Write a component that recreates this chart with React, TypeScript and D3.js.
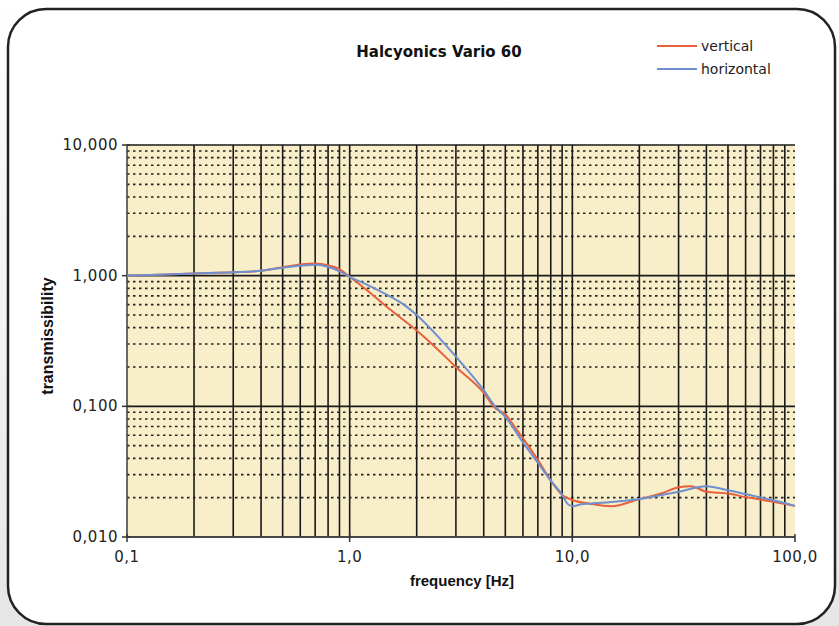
import React, { useEffect, useRef } from 'react'
import * as d3 from 'd3'

const xTickValues = [0.1, 1, 10, 100]
const xTickLabels = ['0,1', '1,0', '10,0', '100,0']
const yTickValues = [0.01, 0.1, 1, 10]
const yTickLabels = ['0,010', '0,100', '1,000', '10,000']

const verticalFreq = [0.1, 0.15, 0.2, 0.3, 0.4, 0.5, 0.6, 0.7, 0.8, 0.9, 1.0, 1.2, 1.5, 2.0, 2.5, 3.0, 4.0, 4.5, 5.0, 5.5, 6.0, 7.0, 8.0, 9.0, 10, 12, 15, 20, 25, 30, 34, 40, 50, 60, 80, 100]
const verticalVal = [1.0, 1.02, 1.04, 1.06, 1.09, 1.16, 1.22, 1.24, 1.2, 1.12, 0.98, 0.77, 0.56, 0.38, 0.27, 0.2, 0.127, 0.097, 0.087, 0.07, 0.057, 0.039, 0.027, 0.021, 0.0192, 0.018, 0.0172, 0.0195, 0.0215, 0.024, 0.0245, 0.0222, 0.0215, 0.0202, 0.0186, 0.0173]

const horizontalFreq = [0.1, 0.2, 0.3, 0.4, 0.5, 0.6, 0.7, 0.8, 0.9, 1.0, 1.2, 1.5, 1.8, 2.0, 2.5, 3.0, 4.0, 4.5, 5.0, 6.0, 7.0, 8.0, 9.0, 9.5, 10, 11, 12, 15, 20, 30, 40, 50, 60, 80, 100]
const horizontalVal = [1.0, 1.04, 1.06, 1.09, 1.15, 1.19, 1.21, 1.17, 1.08, 0.98, 0.85, 0.7, 0.58, 0.5, 0.34, 0.24, 0.133, 0.1, 0.083, 0.053, 0.037, 0.027, 0.021, 0.018, 0.0172, 0.0178, 0.018, 0.0185, 0.0195, 0.0222, 0.0245, 0.0228, 0.0213, 0.0191, 0.0173]

const seriesNames = ['vertical', 'horizontal']
const seriesColors = ['#e8603c', '#6f8fcf']

export default function App() {
  const svgRef = useRef<SVGSVGElement>(null)

  useEffect(() => {
    const svg = d3.select(svgRef.current)
    svg.selectAll('*').remove()

    const W = 839
    const H = 626
    const left = 127
    const right = 795
    const top = 145
    const bottom = 537

    // page background + rounded frame
    const defs = svg.append('defs')
    const grad = defs
      .append('linearGradient')
      .attr('id', 'bg')
      .attr('x1', 0)
      .attr('y1', 0)
      .attr('x2', 0)
      .attr('y2', 1)
    grad.append('stop').attr('offset', '0%').attr('stop-color', '#ffffff')
    grad.append('stop').attr('offset', '100%').attr('stop-color', '#e6e6e6')
    svg.append('rect').attr('width', W).attr('height', H).attr('fill', 'url(#bg)')
    svg
      .append('rect')
      .attr('x', 8)
      .attr('y', 9)
      .attr('width', 827)
      .attr('height', 615)
      .attr('rx', 38)
      .attr('fill', '#ffffff')
      .attr('stroke', '#222')
      .attr('stroke-width', 2.5)

    const x = d3.scaleLog().domain([0.1, 100]).range([left, right])
    const y = d3.scaleLog().domain([0.01, 10]).range([bottom, top])

    svg
      .append('rect')
      .attr('x', left)
      .attr('y', top)
      .attr('width', right - left)
      .attr('height', bottom - top)
      .attr('fill', '#f8efca')

    // minor horizontal (dotted) and vertical grid
    const g = svg.append('g')
    for (let d = -2; d < 1; d++) {
      for (let m = 2; m <= 9; m++) {
        const v = m * Math.pow(10, d)
        g.append('line')
          .attr('x1', left)
          .attr('x2', right)
          .attr('y1', y(v))
          .attr('y2', y(v))
          .attr('stroke', '#222')
          .attr('stroke-width', 1.6)
          .attr('stroke-dasharray', '2.5,3.5')
      }
    }
    for (let d = -1; d < 2; d++) {
      for (let m = 1; m <= 9; m++) {
        const v = m * Math.pow(10, d)
        if (v === 0.1) continue
        g.append('line')
          .attr('x1', x(v))
          .attr('x2', x(v))
          .attr('y1', top)
          .attr('y2', bottom)
          .attr('stroke', '#1a1a1a')
          .attr('stroke-width', 1.6)
      }
    }
    yTickValues.forEach((v) => {
      g.append('line')
        .attr('x1', left)
        .attr('x2', right)
        .attr('y1', y(v))
        .attr('y2', y(v))
        .attr('stroke', '#1a1a1a')
        .attr('stroke-width', 1.6)
    })
    // axes lines
    g.append('line')
      .attr('x1', left)
      .attr('x2', left)
      .attr('y1', top)
      .attr('y2', bottom)
      .attr('stroke', '#444')
      .attr('stroke-width', 1.6)
    g.append('line')
      .attr('x1', left)
      .attr('x2', right)
      .attr('y1', bottom)
      .attr('y2', bottom)
      .attr('stroke', '#444')
      .attr('stroke-width', 1.6)

    // ticks + labels
    yTickValues.forEach((v, i) => {
      g.append('line')
        .attr('x1', left - 5)
        .attr('x2', left + 3)
        .attr('y1', y(v))
        .attr('y2', y(v))
        .attr('stroke', '#333')
        .attr('stroke-width', 1.5)
      svg
        .append('text')
        .attr('x', left - 9)
        .attr('y', y(v) + 5)
        .attr('text-anchor', 'end')
        .attr('font-family', 'DejaVu Sans, sans-serif')
        .attr('font-size', 15)
        .attr('letter-spacing', 0.5)
        .attr('fill', '#222')
        .text(yTickLabels[i])
    })
    xTickValues.forEach((v, i) => {
      g.append('line')
        .attr('x1', x(v))
        .attr('x2', x(v))
        .attr('y1', bottom - 3)
        .attr('y2', bottom + 5)
        .attr('stroke', '#333')
        .attr('stroke-width', 1.5)
      svg
        .append('text')
        .attr('x', x(v))
        .attr('y', bottom + 25)
        .attr('text-anchor', 'middle')
        .attr('font-family', 'DejaVu Sans, sans-serif')
        .attr('font-size', 15)
        .attr('letter-spacing', 0.5)
        .attr('fill', '#222')
        .text(xTickLabels[i])
    })

    svg
      .append('text')
      .attr('x', 462)
      .attr('y', 586)
      .attr('text-anchor', 'middle')
      .attr('font-family', 'Liberation Sans, Arial, sans-serif')
      .attr('font-weight', 'bold')
      .attr('font-size', 15)
      .attr('fill', '#111')
      .text('frequency [Hz]')
    svg
      .append('text')
      .attr('transform', 'translate(53,336) rotate(-90)')
      .attr('text-anchor', 'middle')
      .attr('font-family', 'Liberation Sans, Arial, sans-serif')
      .attr('font-weight', 'bold')
      .attr('font-size', 16)
      .attr('fill', '#111')
      .text('transmissibility')

    svg
      .append('text')
      .attr('x', 439)
      .attr('y', 57)
      .attr('text-anchor', 'middle')
      .attr('font-family', 'DejaVu Sans, sans-serif')
      .attr('font-weight', 'bold')
      .attr('font-size', 15)
      .attr('fill', '#111')
      .text('Halcyonics Vario 60')

    // series
    const line = d3
      .line<[number, number]>()
      .x((d) => x(d[0]))
      .y((d) => y(d[1]))
      .curve(d3.curveMonotoneX)

    const series: [number, number][][] = [
      verticalFreq.map((f, i) => [f, verticalVal[i]]),
      horizontalFreq.map((f, i) => [f, horizontalVal[i]]),
    ]
    series.forEach((s, i) => {
      svg
        .append('path')
        .attr('d', line(s))
        .attr('fill', 'none')
        .attr('stroke', seriesColors[i])
        .attr('stroke-width', 2)
    })

    // legend
    seriesNames.forEach((name, i) => {
      const ly = 46 + i * 23
      svg
        .append('line')
        .attr('x1', 657)
        .attr('x2', 697)
        .attr('y1', ly)
        .attr('y2', ly)
        .attr('stroke', seriesColors[i])
        .attr('stroke-width', 2)
      svg
        .append('text')
        .attr('x', 701)
        .attr('y', ly + 5)
        .attr('font-family', 'DejaVu Sans, sans-serif')
        .attr('font-size', 14)
        .attr('fill', '#222')
        .text(name)
    })
  }, [])

  return (
    <svg
      ref={svgRef}
      width="839"
      height="626"
      style={{ position: 'absolute', left: 0, top: 0 }}
    ></svg>
  )
}
